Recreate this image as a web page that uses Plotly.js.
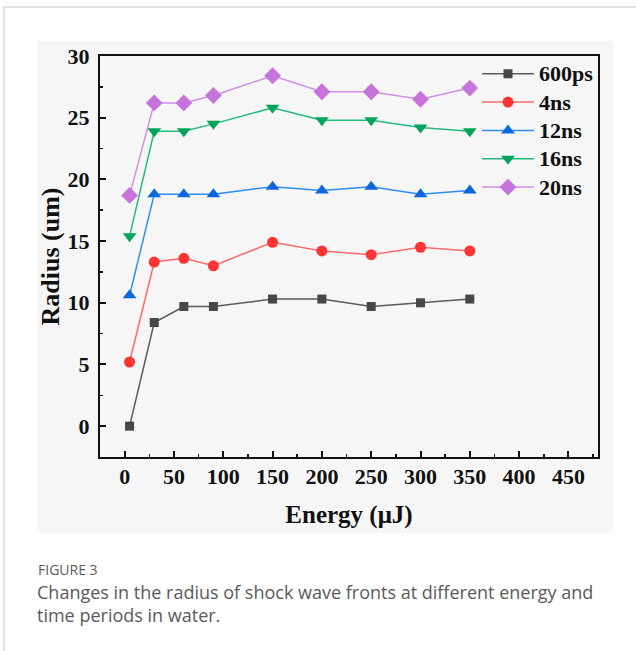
<!DOCTYPE html>
<html>
<head>
<meta charset="utf-8">
<script src="https://cdn.plot.ly/plotly-3.0.1.min.js"></script>
<style>html,body{margin:0;padding:0;background:#fff;}#chart{width:636px;height:651px;}</style>
</head>
<body>
<div id="chart"></div>
<script>
// ---- data ----
var energy = [5, 30, 60, 90, 150, 200, 250, 300, 350];
var r600ps = [0, 8.4, 9.7, 9.7, 10.3, 10.3, 9.7, 10.0, 10.3];
var r4ns   = [5.2, 13.3, 13.6, 13.0, 14.9, 14.2, 13.9, 14.5, 14.2];
var r12ns  = [10.6, 18.8, 18.8, 18.8, 19.4, 19.1, 19.4, 18.8, 19.1];
var r16ns  = [15.4, 23.9, 23.9, 24.5, 25.8, 24.8, 24.8, 24.2, 23.9];
var r20ns  = [18.7, 26.2, 26.2, 26.8, 28.4, 27.1, 27.1, 26.5, 27.4];
var seriesNames = ['600ps', '4ns', '12ns', '16ns', '20ns'];
var xTicks = [0, 50, 100, 150, 200, 250, 300, 350, 400, 450];
var yTicks = [0, 5, 10, 15, 20, 25, 30];

// ---- layout helpers (pixel -> paper) ----
var W = 636, H = 651, L = 100, R = 38, T = 56, B = 194;
var PW = W - L - R, PH = H - T - B;
function px(x){ return (x - L) / PW; }
function py(y){ return (H - B - y) / PH; }

var serif = '"Liberation Serif", "Times New Roman", serif';
var sans = '"Open Sans", "Noto Sans", sans-serif';
var styles = [
  {sym:'square', size:9, mc:'#474747', lc:'#5a5a5a'},
  {sym:'circle', size:11, mc:'#ff3535', lc:'#ff6a6a'},
  {sym:'triangle-up', size:12, mc:'#0a68dc', lc:'#2e8cf0'},
  {sym:'triangle-down', size:12, mc:'#05a45c', lc:'#25b97c'},
  {sym:'diamond', size:13, mc:'#c674dc', lc:'#cf8fe8'}
];
var ys = [r600ps, r4ns, r12ns, r16ns, r20ns];
var traces = ys.map(function(y, i){
  return {
    x: energy, y: y, type: 'scatter', mode: 'lines+markers',
    name: '<span style="font-size:22px">' + seriesNames[i] + '</span>',
    line: {color: styles[i].lc, width: 1.5},
    marker: {symbol: styles[i].sym, size: styles[i].size, color: styles[i].mc, line: {width: 0}}
  };
});

var axisFont = {family: serif, size: 22, color: '#111', weight: 'bold'};
var layout = {
  width: W, height: H,
  margin: {l: L, r: R, t: T, b: B, pad: 0},
  paper_bgcolor: '#ffffff',
  plot_bgcolor: 'rgba(0,0,0,0)',
  showlegend: true,
  legend: {
    x: px(477), y: py(54.5), xanchor: 'left', yanchor: 'top',
    bgcolor: 'rgba(0,0,0,0)', borderwidth: 0,
    font: {family: serif, size: 19.5, color: '#111', weight: 'bold'},
    itemwidth: 52, tracegroupgap: 0
  },
  xaxis: {
    range: [-25, 480], tickvals: xTicks, ticktext: xTicks.map(String),
    ticks: 'inside', ticklen: 6, tickwidth: 2, tickcolor: '#111',
    minor: {dtick: 25, tick0: 0, ticks: 'inside', ticklen: 3, tickwidth: 1.5, tickcolor: '#111'},
    showline: true, linewidth: 2, linecolor: '#111', mirror: true,
    showgrid: false, zeroline: false,
    tickfont: axisFont, ticklabelstandoff: -1,
    title: {text: 'Energy (μJ)', font: {family: serif, size: 25, color: '#111', weight: 'bold'}, standoff: 17}
  },
  yaxis: {
    range: [-2.5, 30], tickvals: yTicks, ticktext: yTicks.map(String),
    ticks: 'inside', ticklen: 6, tickwidth: 2, tickcolor: '#111',
    minor: {dtick: 2.5, tick0: 0, ticks: 'inside', ticklen: 3, tickwidth: 1.5, tickcolor: '#111'},
    showline: true, linewidth: 2, linecolor: '#111', mirror: true,
    showgrid: false, zeroline: false,
    tickfont: axisFont, ticklabelstandoff: 4,
    title: {text: 'Radius (um)', font: {family: serif, size: 26, color: '#111', weight: 'bold'}, standoff: 0}
  },
  shapes: [
    {type: 'rect', xref: 'paper', yref: 'paper', x0: px(37), x1: px(613), y0: py(533), y1: py(41),
     fillcolor: '#f6f6f6', line: {width: 0}, layer: 'below'},
    {type: 'line', xref: 'paper', yref: 'paper', x0: px(4), x1: px(640), y0: py(7), y1: py(7),
     line: {color: '#c4c4c4', width: 1}, layer: 'below'},
    {type: 'line', xref: 'paper', yref: 'paper', x0: px(4), x1: px(4), y0: py(7), y1: py(655),
     line: {color: '#c4c4c4', width: 1}, layer: 'below'}
  ],
  annotations: [
    {xref: 'paper', yref: 'paper', x: px(37), y: py(569.5), xanchor: 'left', yanchor: 'middle', borderpad: 0,
     text: 'FIGURE 3', showarrow: false, font: {family: sans, size: 14, color: '#5c5c5c'}},
    {xref: 'paper', yref: 'paper', x: px(36), y: py(603), xanchor: 'left', yanchor: 'middle', borderpad: 0,
     align: 'left',
     text: 'Changes in the radius of shock wave fronts at different energy and<br>time periods in water.',
     showarrow: false, font: {family: sans, size: 18, color: '#5a5a5a'}}
  ]
};

Plotly.newPlot('chart', traces, layout, {displayModeBar: false, staticPlot: true});
</script>
</body>
</html>
